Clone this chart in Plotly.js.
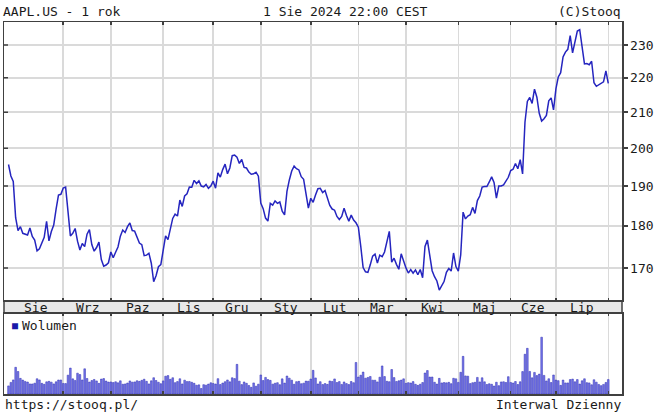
<!DOCTYPE html>
<html><head><meta charset="utf-8">
<script src="https://cdn.plot.ly/plotly-3.0.1.min.js"></script>
<style>html,body{margin:0;padding:0;background:#fff}#chart{width:654px;height:415px}</style>
</head><body><div id="chart"></div>
<script>
// Daily closes, AAPL.US, 1 Aug 2023 .. 1 Aug 2024 (one value per trading day)
const closePrices = [
 195.61,192.58,191.17,181.99,178.85,179.80,178.19,177.97,177.79,179.46,177.45,176.57,174.00,174.49,175.84,177.23,181.12,176.38,178.61,180.19,184.12,187.65,187.87,
 189.46,189.70,182.91,177.56,178.18,179.36,176.30,174.21,175.74,175.01,177.97,179.07,175.49,173.93,174.79,176.08,171.96,170.43,170.69,171.21,
 173.75,172.40,173.66,174.91,177.49,178.99,178.39,179.80,180.71,178.85,178.72,177.15,175.84,175.46,172.88,173.00,173.44,171.10,166.89,168.22,170.29,170.77,
 173.97,177.57,176.65,179.23,181.82,182.89,182.41,186.40,184.80,187.44,188.01,189.71,189.69,191.45,190.64,191.31,189.97,189.79,190.40,189.37,189.95,
 191.24,189.43,193.42,192.32,194.27,195.71,193.18,194.71,197.96,198.11,197.57,195.89,196.94,194.83,194.68,193.60,193.05,193.15,193.58,192.53,
 185.64,184.25,181.91,181.18,185.56,185.14,186.19,185.59,185.92,183.63,182.68,188.63,191.56,193.89,195.18,194.50,194.17,192.42,191.73,188.04,184.40,
 186.86,185.85,187.68,189.30,189.41,188.32,188.85,187.15,185.04,184.15,183.86,182.31,181.56,182.32,184.37,182.52,181.16,182.63,181.42,180.75,
 179.66,175.10,170.12,169.12,169.00,170.73,172.75,173.23,171.13,173.00,172.62,173.72,176.08,178.67,171.37,172.28,170.85,169.71,173.31,171.48,
 170.03,168.84,169.65,168.82,169.58,168.45,169.67,167.78,175.04,176.55,172.69,169.38,168.00,167.04,165.00,165.84,166.90,169.02,169.89,169.30,173.50,170.33,
 169.30,173.03,183.38,181.71,182.40,182.74,184.57,183.05,186.28,187.43,189.72,189.84,189.87,191.04,192.35,190.90,186.88,189.98,189.99,190.29,191.29,192.25,
 194.03,194.35,195.87,194.48,196.89,193.12,207.15,213.07,214.24,212.49,216.67,214.29,209.68,207.49,208.14,209.07,213.25,214.10,210.62,
 216.75,220.27,221.55,226.34,227.82,228.68,232.98,227.57,230.54,234.40,234.82,228.88,224.18,224.31,223.96,225.01,218.54,217.49,217.96,218.24,218.80,222.08,
 218.36
];
// Daily volume, millions of shares
const volumeM = [
 35.2,50.4,61.2,115.8,97.6,67.8,60.4,54.7,52.0,43.7,43.6,46.9,66.1,61.1,46.3,42.1,52.7,54.9,51.4,43.8,53.0,60.8,60.8,
 45.7,45.3,81.8,112.5,65.6,58.9,90.4,84.3,60.9,109.2,67.3,51.8,58.4,63.1,56.7,46.2,64.6,66.9,56.3,51.8,
 52.2,49.6,53.0,48.5,57.2,42.4,43.7,47.6,56.7,51.4,52.5,57.5,54.8,59.3,64.2,55.0,43.8,57.2,70.6,58.5,51.1,44.8,
 56.9,77.3,79.8,63.8,70.5,49.3,53.8,66.1,43.6,60.1,53.8,54.4,50.9,46.5,38.1,39.6,24.0,40.6,38.4,43.0,48.8,
 45.7,43.4,66.6,41.1,47.5,53.4,60.9,52.7,70.4,66.8,128.5,55.8,40.7,52.2,46.5,37.1,28.9,48.1,34.0,42.6,
 82.5,58.4,72.0,62.4,59.1,42.8,46.8,49.1,40.4,65.6,47.3,78.0,68.7,60.1,42.4,53.6,54.8,44.6,47.1,55.9,55.5,
 64.9,102.5,69.7,43.5,53.4,41.0,45.2,41.8,56.5,54.6,65.4,49.8,53.7,41.5,52.3,45.1,40.9,54.3,49.0,136.7,
 73.5,81.5,95.1,68.6,71.8,76.1,60.1,59.8,52.5,72.9,121.7,75.6,55.2,53.4,106.2,71.1,54.3,57.4,60.3,65.7,
 46.2,49.3,47.7,53.7,42.1,37.4,42.5,49.7,91.1,101.6,73.5,73.7,50.9,43.1,67.8,48.1,49.5,48.3,50.6,44.8,68.2,65.9,
 50.4,94.2,163.2,78.6,77.3,45.1,49.0,50.8,72.0,52.4,70.4,52.8,41.3,44.4,42.3,34.6,51.0,36.3,52.3,53.1,49.9,75.2,
 50.1,47.5,54.2,41.2,53.1,97.3,172.4,198.1,97.9,70.1,93.7,79.9,86.2,246.4,80.7,56.7,66.2,49.8,82.5,
 60.4,58.0,37.4,60.4,48.1,48.1,62.6,64.7,53.0,62.6,43.2,57.3,66.0,49.2,48.2,40.0,61.8,51.4,41.6,36.3,41.6,50.0,
 62.5
];
const monthLabels = ['Sie','Wrz','Paz','Lis','Gru','Sty','Lut','Mar','Kwi','Maj','Cze','Lip'];
// trading-day index of the first session of each month (Aug 2023 .. Aug 2024)
const monthStartIdx = [0,23,43,65,86,106,127,147,167,189,211,230,252];
const priceTicks = [170,180,190,200,210,220,230];

const idx = closePrices.map((_, i) => i);
const gridIdx = monthStartIdx.slice(1);
const labelIdx = monthLabels.map((_, k) => (monthStartIdx[k] + monthStartIdx[k + 1]) / 2);

const FONT = 'DejaVu Sans Mono, monospace';
const TXT = '#1a1a1a';
const LINE = '#404040';
const GRID = '#dadada';
const XR = [-1.89, 257.77];
const YR = [2.2112, 2.3753];
const volTop = 0.2169, priceBottom = 0.2508;

const traces = [
  { x: idx, y: closePrices, xaxis: 'x', yaxis: 'y', type: 'scatter', mode: 'lines',
    line: { color: '#2525bf', width: 1.5 }, hoverinfo: 'skip' },
  { x: idx, y: volumeM, xaxis: 'x2', yaxis: 'y2', type: 'bar',
    marker: { color: '#7676ea', line: { color: '#2d2db0', width: 0.5 } }, hoverinfo: 'skip' }
];

const common = { zeroline: false, fixedrange: true };

// month names in the grey band, placed through the x scale
const monthAnnots = monthLabels.map((m, k) => ({
  text: m, xref: 'x', yref: 'paper', x: labelIdx[k], y: priceBottom,
  xanchor: 'center', yanchor: 'middle', yshift: -6.5, showarrow: false
}));
// inward tick marks on the left frame, at the price tick values
const leftTicks = priceTicks.map(v => ({
  type: 'line', xref: 'paper', xsizemode: 'pixel', xanchor: 0, x0: 0, x1: 4,
  yref: 'y', y0: v, y1: v, line: { color: LINE, width: 1.5 }, layer: 'above'
}));

const layout = {
  width: 654, height: 415,
  margin: { l: 4, r: 32, t: 22, b: 21 },
  paper_bgcolor: '#fff', plot_bgcolor: '#fff',
  showlegend: false, bargap: 0.3,
  font: { family: FONT, size: 13, color: TXT },
  xaxis: Object.assign({}, common, { domain: [0, 1], anchor: 'y', range: XR, tickmode: 'array', tickvals: gridIdx,
    showticklabels: false, ticks: 'inside', ticklen: 3, tickwidth: 1.5, tickcolor: LINE,
    showgrid: true, gridcolor: GRID, gridwidth: 1.5,
    showline: true, linecolor: LINE, linewidth: 1.5, mirror: 'ticks' }),
  yaxis: Object.assign({}, common, { domain: [priceBottom, 1], anchor: 'x', type: 'log', range: YR, side: 'right',
    tickmode: 'array', tickvals: priceTicks, ticks: 'outside', ticklen: 4, tickwidth: 1.5, tickcolor: LINE,
    showgrid: true, gridcolor: GRID, gridwidth: 1.5,
    showline: true, linecolor: LINE, linewidth: 1.5, mirror: true,
    tickfont: { family: FONT, size: 13, color: TXT } }),
  xaxis2: Object.assign({}, common, { domain: [0, 1], anchor: 'y2', range: XR, tickmode: 'array', tickvals: gridIdx,
    showticklabels: false, ticks: 'inside', ticklen: 3, tickwidth: 1.5, tickcolor: LINE,
    showgrid: true, gridcolor: GRID, gridwidth: 1.5,
    showline: true, linecolor: LINE, linewidth: 1.5, mirror: 'ticks' }),
  yaxis2: Object.assign({}, common, { domain: [0, volTop], anchor: 'x2', range: [0, 350],
    showticklabels: false, ticks: '', showgrid: false, showline: true, linecolor: LINE, linewidth: 1.5, mirror: true }),
  shapes: [
    { type: 'rect', xref: 'paper', yref: 'paper', x0: 0, x1: 1, y0: volTop, y1: priceBottom,
      fillcolor: '#e8e8e8', line: { color: LINE, width: 1.5 }, layer: 'below' }
  ].concat(leftTicks),
  annotations: [
    { text: 'AAPL.US - 1 rok', xref: 'paper', yref: 'paper', x: 0, y: 1, xanchor: 'left', yanchor: 'middle', xshift: -3, yshift: 11, showarrow: false },
    { text: '1 Sie 2024 22:00 CEST', xref: 'paper', yref: 'paper', x: 0.5526, y: 1, xanchor: 'center', yanchor: 'middle', yshift: 11, showarrow: false },
    { text: '(C)Stooq', xref: 'paper', yref: 'paper', x: 1, y: 1, xanchor: 'right', yanchor: 'middle', xshift: 1, yshift: 11, showarrow: false },
    { text: 'https://stooq.pl/', xref: 'paper', yref: 'paper', x: 0, y: 0, xanchor: 'left', yanchor: 'middle', xshift: -1, yshift: -10, showarrow: false },
    { text: 'Interwal Dzienny', xref: 'paper', yref: 'paper', x: 1, y: 0, xanchor: 'right', yanchor: 'middle', xshift: 1, yshift: -10, showarrow: false },
    { text: '■', font: { family: FONT, size: 10, color: '#1a1aa8' }, xref: 'paper', yref: 'paper', x: 0, y: volTop, xanchor: 'left', yanchor: 'middle', xshift: 6, yshift: -12.5, showarrow: false },
    { text: 'Wolumen', xref: 'paper', yref: 'paper', x: 0, y: volTop, xanchor: 'left', yanchor: 'middle', xshift: 16, yshift: -12.5, showarrow: false }
  ].concat(monthAnnots)
};

Plotly.newPlot('chart', traces, layout, { staticPlot: true, displayModeBar: false });
</script>
</body></html>
